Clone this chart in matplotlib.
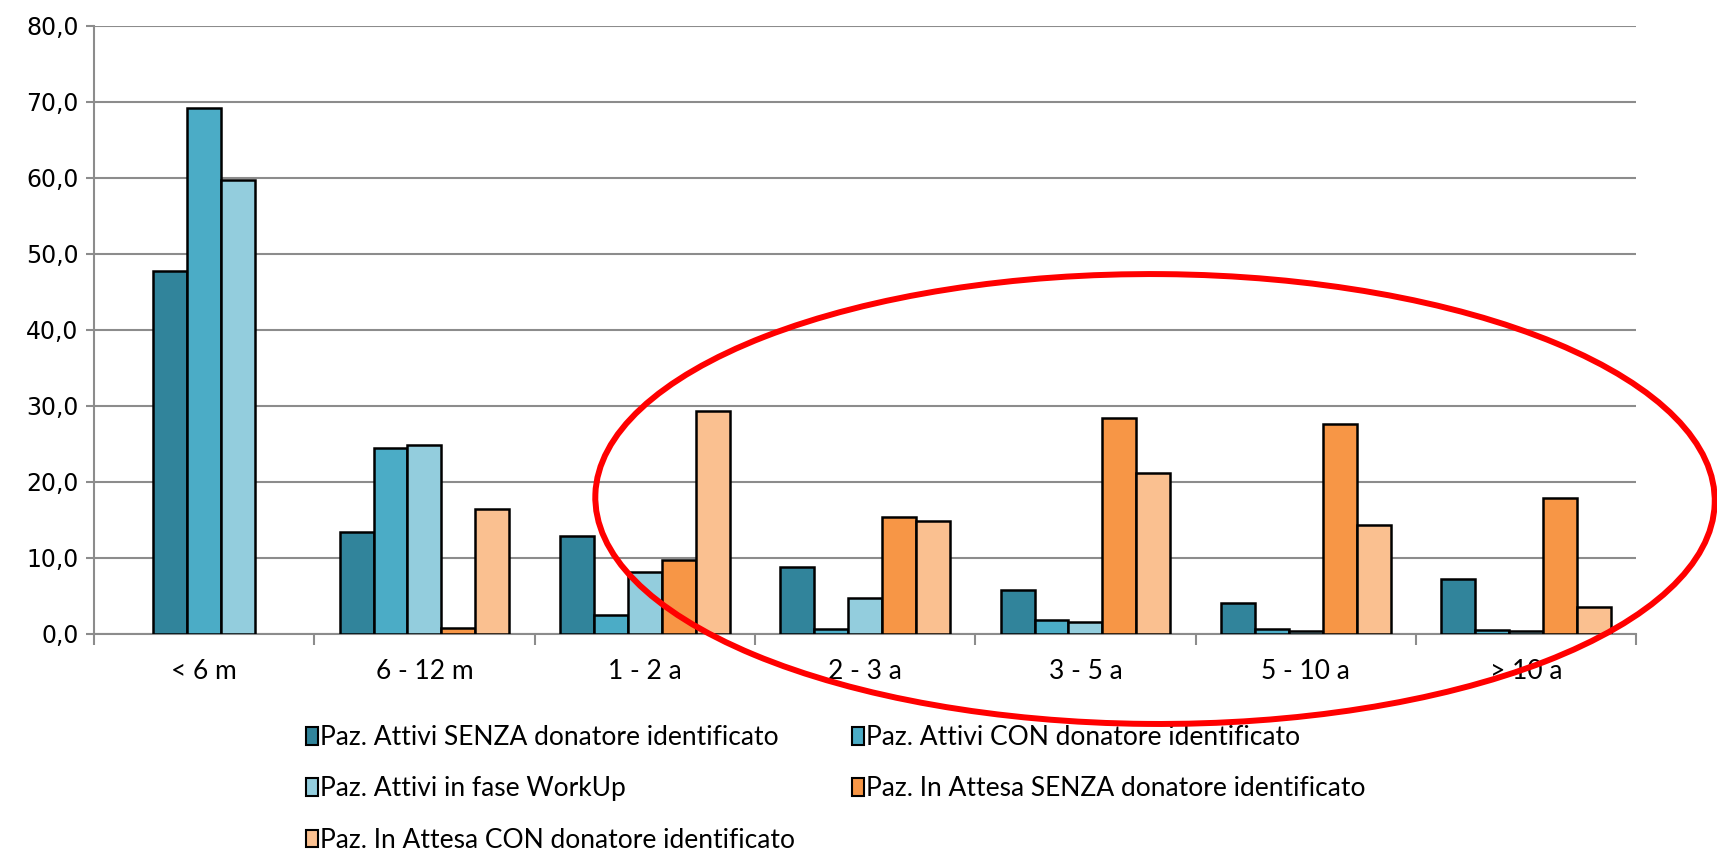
import numpy as np
import matplotlib
matplotlib.use("Agg")
import matplotlib.pyplot as plt
from matplotlib.patches import Ellipse, Patch
from matplotlib.ticker import FuncFormatter

categorie = ["< 6 m", "6 - 12 m", "1 - 2 a", "2 - 3 a", "3 - 5 a", "5 - 10 a", "> 10 a"]

attivi_senza = [47.7, 13.4, 12.9, 8.8, 5.8, 4.0, 7.2]
attivi_con = [69.2, 24.4, 2.5, 0.7, 1.8, 0.7, 0.5]
attivi_workup = [59.7, 24.9, 8.1, 4.7, 1.5, 0.4, 0.4]
attesa_senza = [np.nan, 0.8, 9.7, 15.4, 28.4, 27.6, 17.9]
attesa_con = [np.nan, 16.5, 29.3, 14.8, 21.2, 14.3, 3.6]

etichette = [
    "Paz. Attivi SENZA donatore identificato",
    "Paz. Attivi CON donatore identificato",
    "Paz. Attivi in fase WorkUp",
    "Paz. In Attesa SENZA donatore identificato",
    "Paz. In Attesa CON donatore identificato",
]
colori = ["#31849B", "#4BACC6", "#93CDDD", "#F79646", "#FAC090"]

serie = [attivi_senza, attivi_con, attivi_workup, attesa_senza, attesa_con]

fig = plt.figure(figsize=(17.17, 8.52), dpi=100)
ax = fig.add_axes([0.0547, 0.256, 0.8983, 0.7135])

larg = 0.154
for i, cat in enumerate(categorie):
    # solo le serie con un valore per questa classe, centrate sulla categoria
    presenti = [s for s in range(len(serie)) if not np.isnan(serie[s][i])]
    n = len(presenti)
    for k, s in enumerate(presenti):
        x = i + (k - (n - 1) / 2) * larg
        ax.bar(x, serie[s][i], width=larg, color=colori[s], edgecolor="black",
               linewidth=1.8, zorder=3)

ax.set_xlim(-0.5, len(categorie) - 0.5)
ax.set_ylim(0, 80)
ax.set_yticks(np.arange(0, 81, 10))
ax.yaxis.set_major_formatter(FuncFormatter(lambda v, p: ("%.1f" % v).replace(".", ",")))
ax.grid(axis="y", color="#8c8c8c", linewidth=1.5, zorder=0)

ax.set_xticks(range(len(categorie)))
ax.set_xticklabels(categorie, fontfamily="Lato", fontsize=19)
ax.set_xticks(np.arange(-0.5, len(categorie)), minor=True)
ax.tick_params(axis="x", which="major", length=0, pad=18)
ax.tick_params(axis="x", which="minor", length=8, width=1.5, color="#8c8c8c", direction="out")
ax.tick_params(axis="y", length=6, width=1.5, color="#8c8c8c", labelsize=17, pad=5)

for lato in ["top", "right"]:
    ax.spines[lato].set_visible(False)
for lato in ["left", "bottom"]:
    ax.spines[lato].set_color("#8c8c8c")
    ax.spines[lato].set_linewidth(1.5)

# legenda su due colonne, ordinata per righe
maniglie = [Patch(facecolor=c, edgecolor="black", linewidth=1.5) for c in colori]
ordine = [0, 2, 4, 1, 3]
fig.legend([maniglie[o] for o in ordine], [etichette[o] for o in ordine],
           ncol=2, loc="upper left", bbox_to_anchor=(0.178, 0.149),
           frameon=False, prop={"family": "Lato", "size": 19},
           handlelength=0.45, handleheight=0.65, handletextpad=0.1,
           columnspacing=2.15, labelspacing=1.0, borderaxespad=0, borderpad=0)

# ellisse rossa di evidenziazione
ell = Ellipse((0.6727, 0.4143), 0.652, 0.528, angle=-1, fill=False,
              edgecolor="#ff0000", linewidth=4.3, transform=fig.transFigure, zorder=10)
fig.patches.append(ell)

fig.savefig("out.png", dpi=100)
